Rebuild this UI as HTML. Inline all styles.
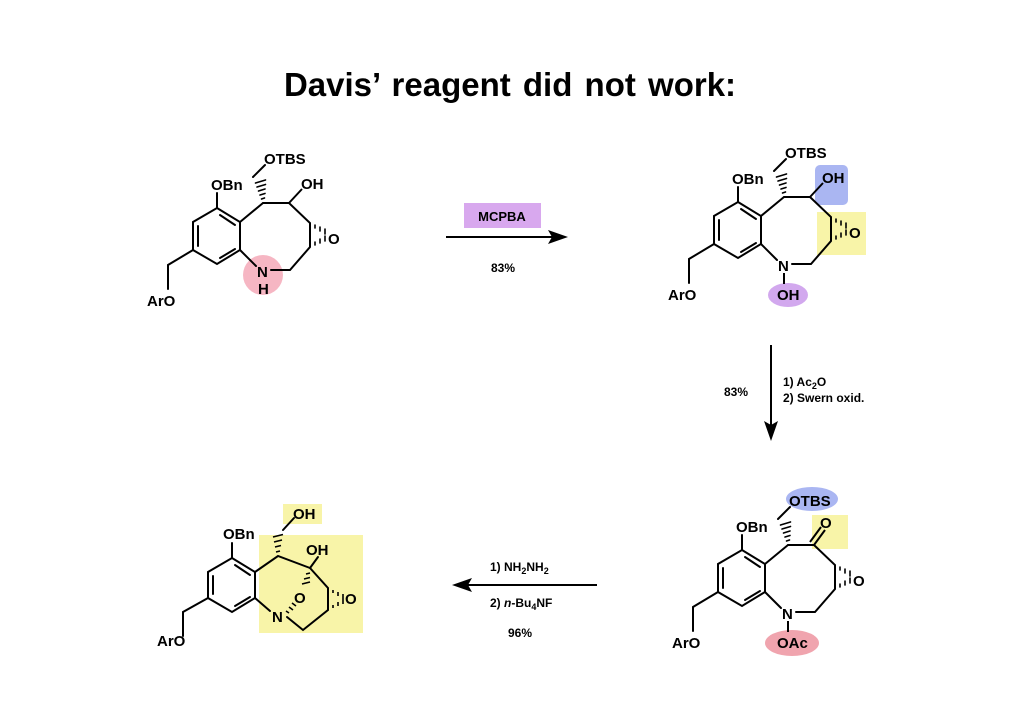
<!DOCTYPE html>
<html><head><meta charset="utf-8"><style>
html,body{margin:0;padding:0;background:#fff;}
svg{display:block;}
text{font-family:"Liberation Sans",sans-serif;font-weight:bold;fill:#000;}
</style></head><body>
<svg width="1024" height="724" viewBox="0 0 1024 724" xmlns="http://www.w3.org/2000/svg">
<defs>
<g id="core" stroke="#000" stroke-width="2" fill="none" stroke-linecap="round">
  <path d="M217,208 L240,222 L240,250 L217,264 L193,250 L193,222 Z"/>
  <path d="M198,226 L198,246 M220,258 L235,249 M235,225 L220,215"/>
  <path d="M217,208 L217,193"/>
  <path d="M193,250 L168,265 L168,289"/>
  <path d="M240,222 L263,203"/>
  <path d="M253,177 L265,165"/>
  <path d="M240,250 L256,266"/>
  <g stroke-width="1.6">
    <path d="M261.5,199 L264.5,198 M260,195 L265,193.5 M258.5,191 L265,189 M257,187 L265.5,184.5 M255.5,183 L265.5,180"/>
  </g>
</g>
<g id="ring8" stroke="#000" stroke-width="2" fill="none" stroke-linecap="round">
  <path d="M263,203 L289,203 L310,223 L310,247 L290,270 L271,270"/>
  <g stroke-width="1.6">
    <path d="M315,225 L315,228 M320,227 L320,231 M325,229 L325,234"/>
    <path d="M315,245 L315,242 M320,243 L320,239 M325,241 L325,236"/>
  </g>
</g>
</defs>

<text x="510" y="96" font-size="33" text-anchor="middle" word-spacing="3">Davis’   reagent did not work:</text>

<!-- Molecule 1 -->
<circle cx="263" cy="275" r="20" fill="#f5a9b8" opacity="0.85"/>
<use href="#core"/>
<use href="#ring8"/>
<path d="M289,203 L302,189" stroke="#000" stroke-width="2"/>
<text x="211" y="190" font-size="15">OBn</text>
<text x="264" y="164" font-size="15">OTBS</text>
<text x="301" y="189" font-size="15">OH</text>
<text x="328" y="244" font-size="15">O</text>
<text x="257" y="277" font-size="15">N</text>
<text x="258" y="294" font-size="15">H</text>
<text x="147" y="306" font-size="15">ArO</text>

<!-- Arrow 1 -->
<rect x="464" y="203" width="77" height="25" fill="#d8a8ee"/>
<text x="502" y="221" font-size="13" text-anchor="middle">MCPBA</text>
<path d="M446,237 L552,237" stroke="#000" stroke-width="2"/>
<path d="M568,237 L548,230 L552,237 L548,244 Z" fill="#000"/>
<text x="503" y="272" font-size="12" text-anchor="middle">83%</text>

<!-- Molecule 2 -->
<g transform="translate(521,-6)">
  <rect x="294" y="171" width="33" height="40" rx="5" fill="#aab6f2"/>
  <rect x="296" y="218" width="49" height="43" fill="#f8f4a8"/>
  <ellipse cx="267" cy="301" rx="20" ry="12" fill="#d2a8ee"/>
  <use href="#core"/>
  <use href="#ring8"/>
  <path d="M289,203 L302,189 M263,279 L263,290" stroke="#000" stroke-width="2"/>
  <text x="211" y="190" font-size="15">OBn</text>
  <text x="264" y="164" font-size="15">OTBS</text>
  <text x="301" y="189" font-size="15">OH</text>
  <text x="328" y="244" font-size="15">O</text>
  <text x="257" y="277" font-size="15">N</text>
  <text x="256" y="306" font-size="15">OH</text>
  <text x="147" y="306" font-size="15">ArO</text>
</g>

<!-- Arrow 2 -->
<path d="M771,345 L771,425" stroke="#000" stroke-width="2"/>
<path d="M771,441 L764,421 L771,425 L778,421 Z" fill="#000"/>
<text x="724" y="396" font-size="12">83%</text>
<text x="783" y="386" font-size="12">1) Ac<tspan font-size="9" dy="3">2</tspan><tspan dy="-3">O</tspan></text>
<text x="783" y="402" font-size="12">2) Swern oxid.</text>

<!-- Molecule 3 -->
<g transform="translate(525,342)">
  <ellipse cx="287" cy="157" rx="26" ry="12" fill="#aab6f2"/>
  <rect x="287" y="173" width="36" height="34" fill="#f8f4a8"/>
  <ellipse cx="267" cy="301" rx="27" ry="13" fill="#f0a4ae"/>
  <use href="#core"/>
  <use href="#ring8"/>
  <path d="M289,203 L300,188 M285,200 L296,185" stroke="#000" stroke-width="2"/>
  <path d="M263,279 L263,290" stroke="#000" stroke-width="2"/>
  <text x="211" y="190" font-size="15">OBn</text>
  <text x="264" y="164" font-size="15">OTBS</text>
  <text x="295" y="186" font-size="15">O</text>
  <text x="328" y="244" font-size="15">O</text>
  <text x="257" y="277" font-size="15">N</text>
  <text x="252" y="306" font-size="15">OAc</text>
  <text x="147" y="306" font-size="15">ArO</text>
</g>

<!-- Arrow 3 -->
<path d="M597,585 L468,585" stroke="#000" stroke-width="2"/>
<path d="M452,585 L472,578 L468,585 L472,592 Z" fill="#000"/>
<text x="490" y="571" font-size="12">1) NH<tspan font-size="9" dy="3">2</tspan><tspan dy="-3">NH</tspan><tspan font-size="9" dy="3">2</tspan></text>
<text x="490" y="607" font-size="12">2) <tspan font-style="italic">n</tspan>-Bu<tspan font-size="9" dy="3">4</tspan><tspan dy="-3">NF</tspan></text>
<text x="520" y="637" font-size="12" text-anchor="middle">96%</text>

<!-- Molecule 4 (absolute coords) -->
<rect x="259" y="535" width="104" height="98" fill="#f8f4a8"/>
<rect x="283" y="504" width="39" height="20" fill="#f8f4a8"/>
<g stroke="#000" stroke-width="2" fill="none" stroke-linecap="round">
  <path d="M232,558 L255,572 L255,598 L232,612 L208,598 L208,572 Z"/>
  <path d="M213,576 L213,594 M235,606 L250,597 M250,575 L235,565"/>
  <path d="M232,558 L232,543"/>
  <path d="M208,598 L183,612 L183,636"/>
  <path d="M255,572 L278,556 L310,568"/>
  <path d="M283,530 L294,518"/>
  <path d="M310,568 L318,557"/>
  <path d="M310,568 L328,588 L328,610 L303,630 L287,617"/>
  <path d="M255,598 L270,611"/>
</g>
<g stroke="#000" stroke-width="1.6">
  <path d="M276,552 L280,551 M275,547 L281,545.5 M274,542 L282,540 M273,537 L283,534.5"/>
  <path d="M306,574 L310,573 M304,579 L310,577.5 M302,584 L310,582"/>
  <path d="M286,611 L289,613 M289,607 L293,610 M292,603 L296,606"/>
  <path d="M333,590 L333,593 M338,592 L338,596 M343,594 L343,599"/>
  <path d="M333,608 L333,605 M338,606 L338,602 M343,604 L343,599"/>
</g>
<text x="223" y="539" font-size="15">OBn</text>
<text x="293" y="519" font-size="15">OH</text>
<text x="306" y="555" font-size="15">OH</text>
<text x="294" y="603" font-size="15">O</text>
<text x="345" y="604" font-size="15">O</text>
<text x="272" y="622" font-size="15">N</text>
<text x="157" y="646" font-size="15">ArO</text>
</svg>
</body></html>
